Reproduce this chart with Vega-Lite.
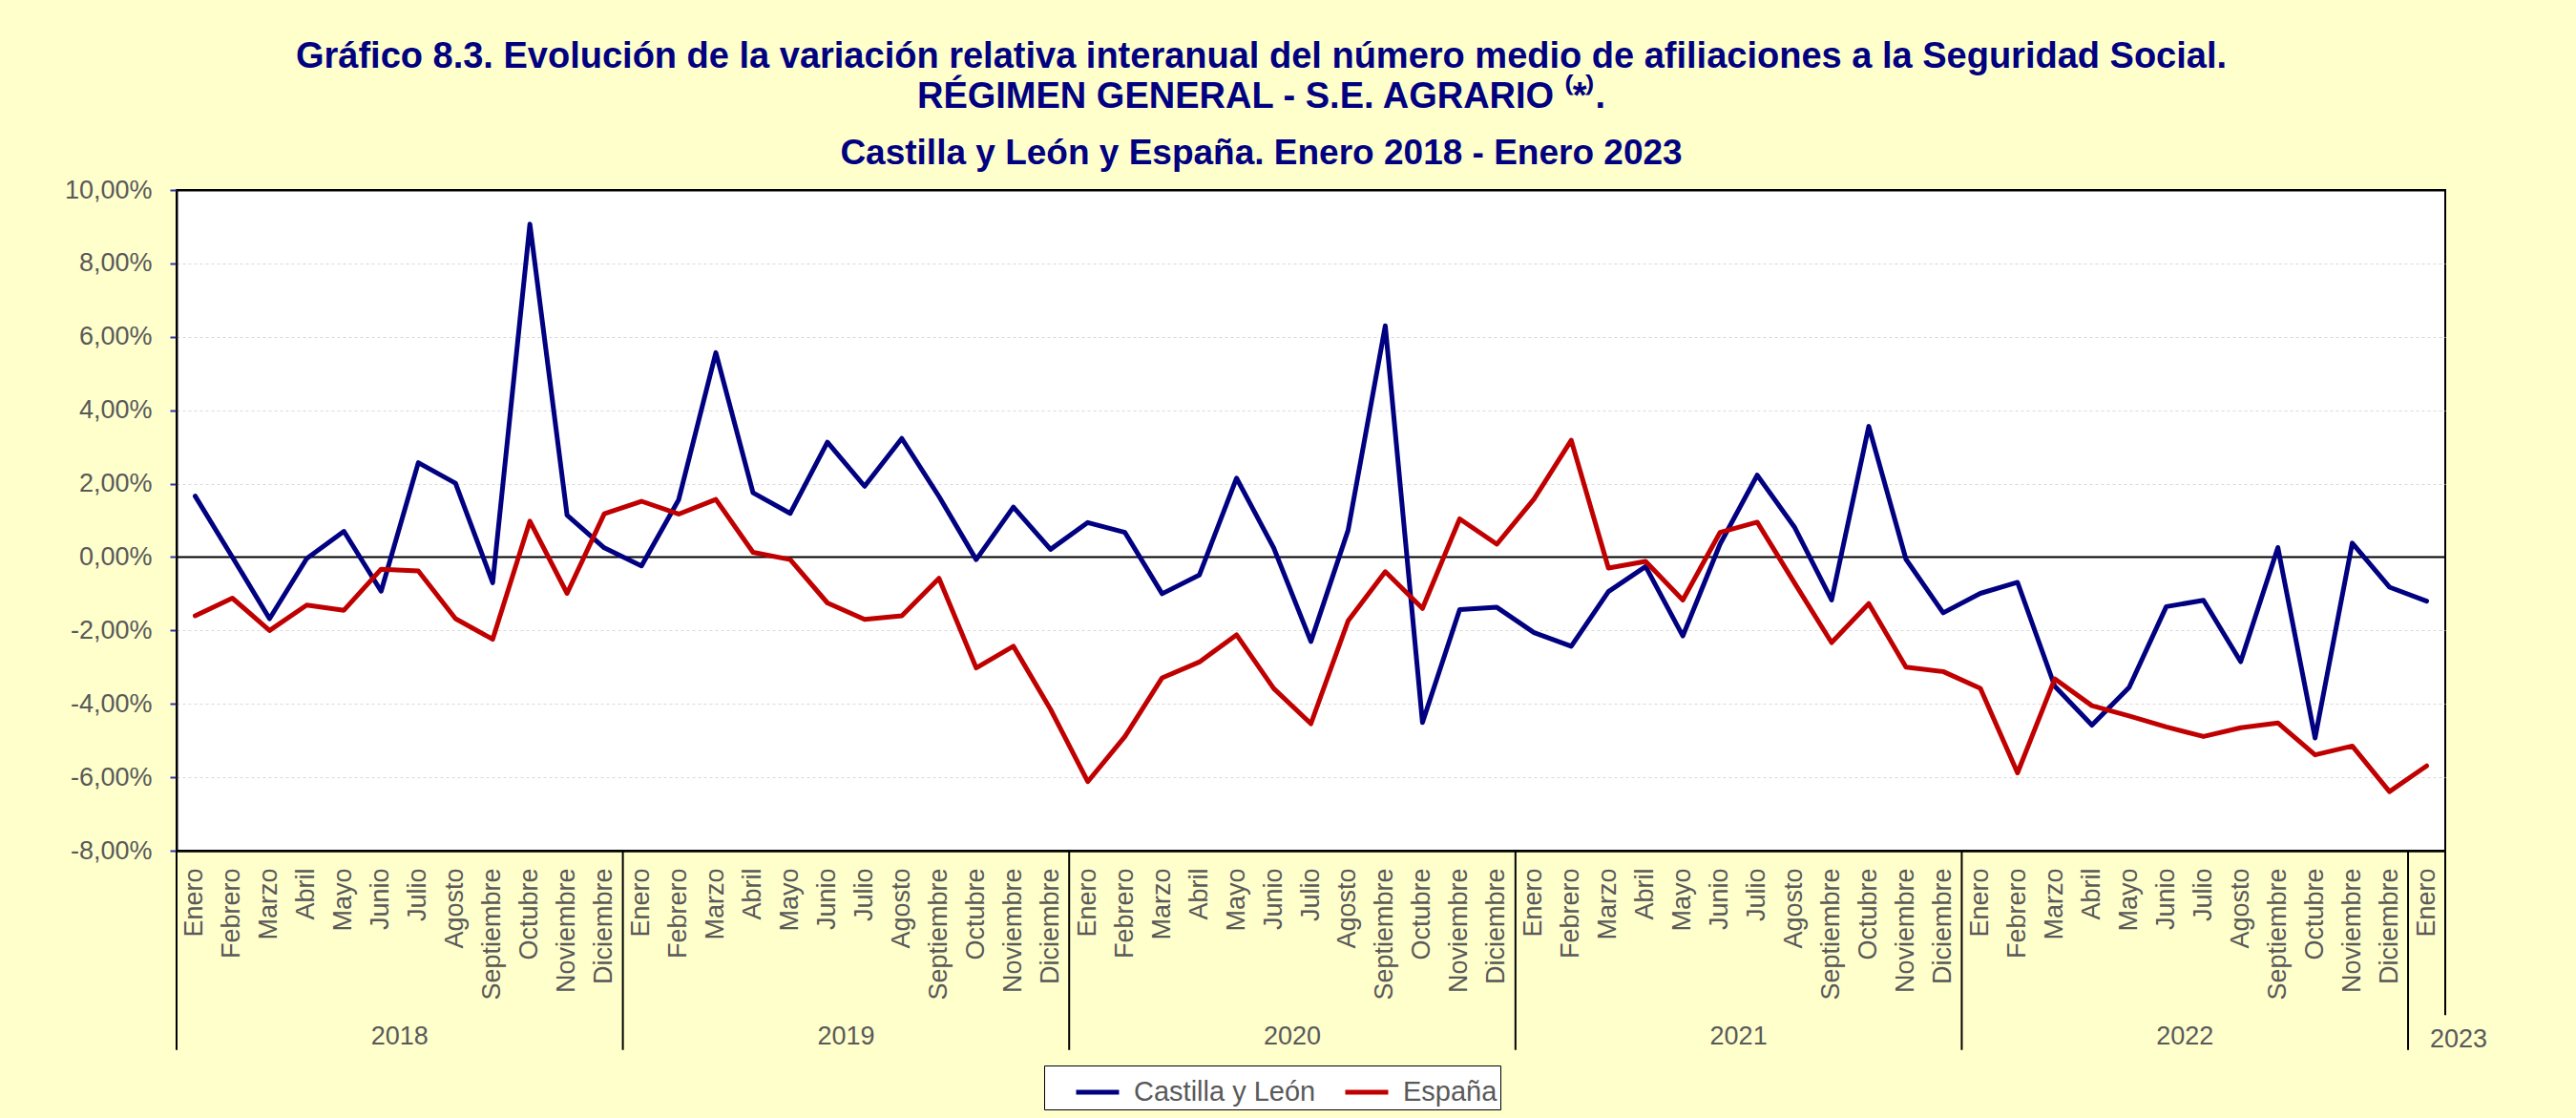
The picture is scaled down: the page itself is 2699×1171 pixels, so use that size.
{
  "$schema": "https://vega.github.io/schema/vega-lite/v6.json",
  "width": 2377,
  "height": 692,
  "autosize": {"type": "none"},
  "padding": {"left": 185, "top": 199, "right": 137, "bottom": 280},
  "background": "#FFFFCC",
  "title": {
    "text": ["Gráfico 8.3. Evolución de la variación relativa interanual del número medio de afiliaciones a la Seguridad Social.", "RÉGIMEN GENERAL - S.E. AGRARIO ⁽*⁾."],
    "subtitle": "Castilla y León y España. Enero 2018 - Enero 2023",
    "anchor": "middle",
    "font": "Liberation Sans",
    "fontSize": 38,
    "fontWeight": "bold",
    "color": "#000080",
    "lineHeight": 42,
    "subtitleFont": "Liberation Sans",
    "subtitleFontSize": 37,
    "subtitleFontWeight": "bold",
    "subtitleColor": "#000080",
    "subtitlePadding": 22,
    "offset": 6,
    "dx": -52
  },
  "datasets": {
    "series": [
      {"fecha": "2018-01", "serie": "Castilla y León", "valor": 0.0166},
      {"fecha": "2018-02", "serie": "Castilla y León", "valor": 0.0000},
      {"fecha": "2018-03", "serie": "Castilla y León", "valor": -0.0168},
      {"fecha": "2018-04", "serie": "Castilla y León", "valor": -0.0004},
      {"fecha": "2018-05", "serie": "Castilla y León", "valor": 0.0070},
      {"fecha": "2018-06", "serie": "Castilla y León", "valor": -0.0093},
      {"fecha": "2018-07", "serie": "Castilla y León", "valor": 0.0257},
      {"fecha": "2018-08", "serie": "Castilla y León", "valor": 0.0201},
      {"fecha": "2018-09", "serie": "Castilla y León", "valor": -0.0070},
      {"fecha": "2018-10", "serie": "Castilla y León", "valor": 0.0907},
      {"fecha": "2018-11", "serie": "Castilla y León", "valor": 0.0114},
      {"fecha": "2018-12", "serie": "Castilla y León", "valor": 0.0025},
      {"fecha": "2019-01", "serie": "Castilla y León", "valor": -0.0024},
      {"fecha": "2019-02", "serie": "Castilla y León", "valor": 0.0156},
      {"fecha": "2019-03", "serie": "Castilla y León", "valor": 0.0557},
      {"fecha": "2019-04", "serie": "Castilla y León", "valor": 0.0175},
      {"fecha": "2019-05", "serie": "Castilla y León", "valor": 0.0119},
      {"fecha": "2019-06", "serie": "Castilla y León", "valor": 0.0313},
      {"fecha": "2019-07", "serie": "Castilla y León", "valor": 0.0193},
      {"fecha": "2019-08", "serie": "Castilla y León", "valor": 0.0323},
      {"fecha": "2019-09", "serie": "Castilla y León", "valor": 0.0165},
      {"fecha": "2019-10", "serie": "Castilla y León", "valor": -0.0007},
      {"fecha": "2019-11", "serie": "Castilla y León", "valor": 0.0136},
      {"fecha": "2019-12", "serie": "Castilla y León", "valor": 0.0021},
      {"fecha": "2020-01", "serie": "Castilla y León", "valor": 0.0094},
      {"fecha": "2020-02", "serie": "Castilla y León", "valor": 0.0067},
      {"fecha": "2020-03", "serie": "Castilla y León", "valor": -0.0100},
      {"fecha": "2020-04", "serie": "Castilla y León", "valor": -0.0049},
      {"fecha": "2020-05", "serie": "Castilla y León", "valor": 0.0215},
      {"fecha": "2020-06", "serie": "Castilla y León", "valor": 0.0025},
      {"fecha": "2020-07", "serie": "Castilla y León", "valor": -0.0230},
      {"fecha": "2020-08", "serie": "Castilla y León", "valor": 0.0073},
      {"fecha": "2020-09", "serie": "Castilla y León", "valor": 0.0630},
      {"fecha": "2020-10", "serie": "Castilla y León", "valor": -0.0451},
      {"fecha": "2020-11", "serie": "Castilla y León", "valor": -0.0143},
      {"fecha": "2020-12", "serie": "Castilla y León", "valor": -0.0137},
      {"fecha": "2021-01", "serie": "Castilla y León", "valor": -0.0206},
      {"fecha": "2021-02", "serie": "Castilla y León", "valor": -0.0243},
      {"fecha": "2021-03", "serie": "Castilla y León", "valor": -0.0094},
      {"fecha": "2021-04", "serie": "Castilla y León", "valor": -0.0026},
      {"fecha": "2021-05", "serie": "Castilla y León", "valor": -0.0215},
      {"fecha": "2021-06", "serie": "Castilla y León", "valor": 0.0035},
      {"fecha": "2021-07", "serie": "Castilla y León", "valor": 0.0223},
      {"fecha": "2021-08", "serie": "Castilla y León", "valor": 0.0082},
      {"fecha": "2021-09", "serie": "Castilla y León", "valor": -0.0117},
      {"fecha": "2021-10", "serie": "Castilla y León", "valor": 0.0356},
      {"fecha": "2021-11", "serie": "Castilla y León", "valor": -0.0006},
      {"fecha": "2021-12", "serie": "Castilla y León", "valor": -0.0152},
      {"fecha": "2022-01", "serie": "Castilla y León", "valor": -0.0099},
      {"fecha": "2022-02", "serie": "Castilla y León", "valor": -0.0069},
      {"fecha": "2022-03", "serie": "Castilla y León", "valor": -0.0352},
      {"fecha": "2022-04", "serie": "Castilla y León", "valor": -0.0458},
      {"fecha": "2022-05", "serie": "Castilla y León", "valor": -0.0355},
      {"fecha": "2022-06", "serie": "Castilla y León", "valor": -0.0135},
      {"fecha": "2022-07", "serie": "Castilla y León", "valor": -0.0118},
      {"fecha": "2022-08", "serie": "Castilla y León", "valor": -0.0285},
      {"fecha": "2022-09", "serie": "Castilla y León", "valor": 0.0026},
      {"fecha": "2022-10", "serie": "Castilla y León", "valor": -0.0493},
      {"fecha": "2022-11", "serie": "Castilla y León", "valor": 0.0038},
      {"fecha": "2022-12", "serie": "Castilla y León", "valor": -0.0082},
      {"fecha": "2023-01", "serie": "Castilla y León", "valor": -0.0120},
      {"fecha": "2018-01", "serie": "España", "valor": -0.0160},
      {"fecha": "2018-02", "serie": "España", "valor": -0.0112},
      {"fecha": "2018-03", "serie": "España", "valor": -0.0200},
      {"fecha": "2018-04", "serie": "España", "valor": -0.0131},
      {"fecha": "2018-05", "serie": "España", "valor": -0.0145},
      {"fecha": "2018-06", "serie": "España", "valor": -0.0033},
      {"fecha": "2018-07", "serie": "España", "valor": -0.0038},
      {"fecha": "2018-08", "serie": "España", "valor": -0.0168},
      {"fecha": "2018-09", "serie": "España", "valor": -0.0224},
      {"fecha": "2018-10", "serie": "España", "valor": 0.0098},
      {"fecha": "2018-11", "serie": "España", "valor": -0.0099},
      {"fecha": "2018-12", "serie": "España", "valor": 0.0118},
      {"fecha": "2019-01", "serie": "España", "valor": 0.0152},
      {"fecha": "2019-02", "serie": "España", "valor": 0.0117},
      {"fecha": "2019-03", "serie": "España", "valor": 0.0157},
      {"fecha": "2019-04", "serie": "España", "valor": 0.0013},
      {"fecha": "2019-05", "serie": "España", "valor": -0.0007},
      {"fecha": "2019-06", "serie": "España", "valor": -0.0125},
      {"fecha": "2019-07", "serie": "España", "valor": -0.0170},
      {"fecha": "2019-08", "serie": "España", "valor": -0.0160},
      {"fecha": "2019-09", "serie": "España", "valor": -0.0058},
      {"fecha": "2019-10", "serie": "España", "valor": -0.0302},
      {"fecha": "2019-11", "serie": "España", "valor": -0.0243},
      {"fecha": "2019-12", "serie": "España", "valor": -0.0415},
      {"fecha": "2020-01", "serie": "España", "valor": -0.0612},
      {"fecha": "2020-02", "serie": "España", "valor": -0.0489},
      {"fecha": "2020-03", "serie": "España", "valor": -0.0329},
      {"fecha": "2020-04", "serie": "España", "valor": -0.0286},
      {"fecha": "2020-05", "serie": "España", "valor": -0.0212},
      {"fecha": "2020-06", "serie": "España", "valor": -0.0358},
      {"fecha": "2020-07", "serie": "España", "valor": -0.0454},
      {"fecha": "2020-08", "serie": "España", "valor": -0.0174},
      {"fecha": "2020-09", "serie": "España", "valor": -0.0040},
      {"fecha": "2020-10", "serie": "España", "valor": -0.0140},
      {"fecha": "2020-11", "serie": "España", "valor": 0.0104},
      {"fecha": "2020-12", "serie": "España", "valor": 0.0035},
      {"fecha": "2021-01", "serie": "España", "valor": 0.0158},
      {"fecha": "2021-02", "serie": "España", "valor": 0.0318},
      {"fecha": "2021-03", "serie": "España", "valor": -0.0030},
      {"fecha": "2021-04", "serie": "España", "valor": -0.0012},
      {"fecha": "2021-05", "serie": "España", "valor": -0.0117},
      {"fecha": "2021-06", "serie": "España", "valor": 0.0067},
      {"fecha": "2021-07", "serie": "España", "valor": 0.0095},
      {"fecha": "2021-08", "serie": "España", "valor": -0.0070},
      {"fecha": "2021-09", "serie": "España", "valor": -0.0233},
      {"fecha": "2021-10", "serie": "España", "valor": -0.0127},
      {"fecha": "2021-11", "serie": "España", "valor": -0.0300},
      {"fecha": "2021-12", "serie": "España", "valor": -0.0312},
      {"fecha": "2022-01", "serie": "España", "valor": -0.0358},
      {"fecha": "2022-02", "serie": "España", "valor": -0.0588},
      {"fecha": "2022-03", "serie": "España", "valor": -0.0332},
      {"fecha": "2022-04", "serie": "España", "valor": -0.0405},
      {"fecha": "2022-05", "serie": "España", "valor": -0.0433},
      {"fecha": "2022-06", "serie": "España", "valor": -0.0463},
      {"fecha": "2022-07", "serie": "España", "valor": -0.0489},
      {"fecha": "2022-08", "serie": "España", "valor": -0.0465},
      {"fecha": "2022-09", "serie": "España", "valor": -0.0452},
      {"fecha": "2022-10", "serie": "España", "valor": -0.0539},
      {"fecha": "2022-11", "serie": "España", "valor": -0.0515},
      {"fecha": "2022-12", "serie": "España", "valor": -0.0639},
      {"fecha": "2023-01", "serie": "España", "valor": -0.0569}
    ],
    "inicios": [
      {"fecha": "2018-01"}, {"fecha": "2019-01"}, {"fecha": "2020-01"}, {"fecha": "2021-01"}, {"fecha": "2022-01"}, {"fecha": "2023-01"}
    ],
    "anios": [
      {"fecha": "2018-07", "anio": "2018"}, {"fecha": "2019-07", "anio": "2019"}, {"fecha": "2020-07", "anio": "2020"}, {"fecha": "2021-07", "anio": "2021"}, {"fecha": "2022-07", "anio": "2022"}
    ],
    "ultimo": [
      {"fecha": "2023-01", "anio": "2023"}
    ]
  },
  "encoding": {
    "x": {
      "field": "fecha",
      "type": "ordinal",
      "scale": {
        "type": "band", "paddingInner": 0, "paddingOuter": 0,
        "domain": ["2018-01","2018-02","2018-03","2018-04","2018-05","2018-06","2018-07","2018-08","2018-09","2018-10","2018-11","2018-12","2019-01","2019-02","2019-03","2019-04","2019-05","2019-06","2019-07","2019-08","2019-09","2019-10","2019-11","2019-12","2020-01","2020-02","2020-03","2020-04","2020-05","2020-06","2020-07","2020-08","2020-09","2020-10","2020-11","2020-12","2021-01","2021-02","2021-03","2021-04","2021-05","2021-06","2021-07","2021-08","2021-09","2021-10","2021-11","2021-12","2022-01","2022-02","2022-03","2022-04","2022-05","2022-06","2022-07","2022-08","2022-09","2022-10","2022-11","2022-12","2023-01"]
      },
      "axis": {
        "orient": "bottom",
        "title": null,
        "labelAngle": -90,
        "labelAlign": "right",
        "labelBaseline": "middle",
        "labelPadding": 18,
        "labelFont": "Liberation Sans",
        "labelFontSize": 27,
        "labelColor": "#595959",
        "labelOverlap": false,
        "labelExpr": "['Enero','Febrero','Marzo','Abril','Mayo','Junio','Julio','Agosto','Septiembre','Octubre','Noviembre','Diciembre'][toNumber(slice(datum.value,5))-1]",
        "domainColor": "black",
        "domainWidth": 2,
        "ticks": false,
        "grid": false
      }
    }
  },
  "layer": [
    {
      "data": {"name": "inicios"},
      "mark": {"type": "rule", "color": "black", "strokeWidth": 2},
      "encoding": {
        "x": {"field": "fecha", "type": "ordinal", "bandPosition": 0},
        "y": {"datum": -0.08, "type": "quantitative"},
        "y2": {"datum": -0.1343}
      }
    },
    {
      "data": {"name": "ultimo"},
      "mark": {"type": "rule", "color": "black", "strokeWidth": 2},
      "encoding": {
        "x": {"field": "fecha", "type": "ordinal", "bandPosition": 1},
        "y": {"datum": -0.08, "type": "quantitative"},
        "y2": {"datum": -0.1248}
      }
    },
    {
      "data": {"name": "series"},
      "mark": {"type": "line", "strokeWidth": 5, "strokeJoin": "round", "strokeCap": "round"},
      "encoding": {
        "y": {
          "field": "valor",
          "type": "quantitative",
          "scale": {"domain": [-0.08, 0.10], "nice": false, "zero": false},
          "axis": {
            "title": null,
            "values": [-0.08, -0.06, -0.04, -0.02, 0, 0.02, 0.04, 0.06, 0.08, 0.10],
            "format": ".2%",
            "labelFont": "Liberation Sans",
            "labelFontSize": 27,
            "labelColor": "#595959",
            "labelPadding": 19,
            "tickSize": 7,
            "tickColor": "#3333aa",
            "tickWidth": 2,
            "domainColor": "black",
            "domainWidth": 2,
            "grid": true,
            "gridColor": {"condition": {"test": "datum.value == 0 || datum.value > 0.099 || datum.value < -0.079", "value": "black"}, "value": "#d9d9d9"},
            "gridWidth": {"condition": {"test": "datum.value == 0 || datum.value > 0.099 || datum.value < -0.079", "value": 2}, "value": 1},
            "gridDash": {"condition": {"test": "datum.value == 0 || datum.value > 0.099 || datum.value < -0.079", "value": [1, 0]}, "value": [3, 3]}
          }
        },
        "color": {
          "field": "serie",
          "type": "nominal",
          "scale": {"domain": ["Castilla y León", "España"], "range": ["#000080", "#C00000"]},
          "legend": {
            "title": null,
            "orient": "none",
            "legendX": 909,
            "legendY": 917,
            "direction": "horizontal",
            "symbolType": "stroke",
            "symbolSize": 2025,
            "symbolStrokeWidth": 5,
            "symbolOffset": 28,
            "labelOffset": 13,
            "columnPadding": 0,
            "padding": 3,
            "labelLimit": 500,
            "labelExpr": "datum.label == 'España' ? datum.label + '\u00a0\u00a0\u00a0\u00a0\u00a0\u00a0' : datum.label",
            "labelFont": "Liberation Sans",
            "labelFontSize": 29,
            "labelColor": "#595959",
            "fillColor": "white",
            "strokeColor": "black"
          }
        }
      }
    },
    {
      "data": {"name": "anios"},
      "mark": {"type": "text", "font": "Liberation Sans", "fontSize": 27, "color": "#595959", "align": "center", "baseline": "middle"},
      "encoding": {
        "x": {"field": "fecha", "type": "ordinal", "bandPosition": 0},
        "y": {"datum": -0.1308, "type": "quantitative"},
        "text": {"field": "anio"}
      }
    },
    {
      "data": {"name": "ultimo"},
      "mark": {"type": "text", "font": "Liberation Sans", "fontSize": 27, "color": "#595959", "align": "left", "baseline": "middle", "dx": -16},
      "encoding": {
        "x": {"field": "fecha", "type": "ordinal", "bandPosition": 1},
        "y": {"datum": -0.1316, "type": "quantitative"},
        "text": {"field": "anio"}
      }
    }
  ],
  "config": {
    "locale": {
      "number": {"decimal": ",", "thousands": ".", "grouping": [3], "currency": ["", " €"], "minus": "-"}
    },
    "view": {"stroke": "black", "strokeWidth": 2, "fill": "white"}
  }
}
